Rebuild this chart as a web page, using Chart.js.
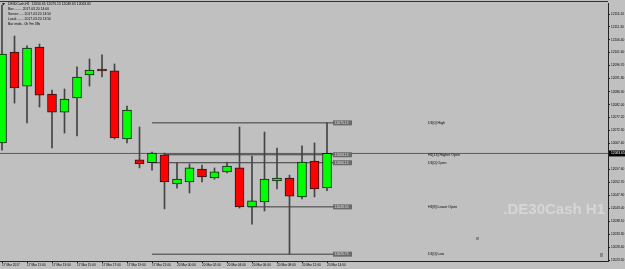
<!DOCTYPE html>
<html>
<head>
<meta charset="utf-8">
<script src="https://cdn.jsdelivr.net/npm/chart.js@4.4.1/dist/chart.umd.min.js"></script>
<style>
  html, body { margin: 0; padding: 0; background: #c0c0c0; }
  canvas { display: block; }
</style>
</head>
<body>
<canvas id="grafico" width="625" height="269"></canvas>
<script>
// H1 candles, 17 Mar 09:00 -> 20 Mar 14:00
const opens  = [12067.6, 12101.8, 12089.0, 12103.7, 12086.0, 12079.2, 12084.5, 12093.2, 12095.4, 12094.7, 12069.1, 12061.2, 12060.15, 12063.1, 12052.2, 12052.9, 12057.8, 12054.4, 12056.7, 12058.2, 12043.5, 12045.4, 12053.3, 12054.4, 12047.3, 12060.8, 12050.65];
const highs  = [12119.5, 12107.8, 12104.1, 12104.8, 12087.5, 12087.9, 12096.2, 12099.2, 12100.7, 12097.3, 12081.5, 12073.6, 12064.2, 12063.8, 12060.1, 12059.7, 12059.3, 12058.2, 12060.4, 12073.6, 12062.7, 12071.7, 12065.7, 12055.5, 12066.5, 12067.6, 12075.15];
const lows   = [12064.9, 12082.6, 12075.1, 12081.1, 12065.7, 12071.3, 12070.2, 12089.0, 12092.4, 12069.1, 12067.6, 12058.2, 12057.4, 12042.8, 12050.6, 12048.8, 12052.9, 12054.0, 12056.3, 12043.1, 12037.0, 12042.0, 12050.3, 12025.75, 12046.5, 12047.3, 12049.65];
const closes = [12101.0, 12088.3, 12103.3, 12085.6, 12079.2, 12084.1, 12092.4, 12095.0, 12094.7, 12069.5, 12080.0, 12059.7, 12063.8, 12052.9, 12054.0, 12058.2, 12054.8, 12056.7, 12058.9, 12043.5, 12045.8, 12054.0, 12054.4, 12047.6, 12060.4, 12050.3, 12063.65];

const timeTickIdx = [0, 2, 4, 6, 8, 10, 12, 14, 16, 18, 20, 22, 24, 26];
const timeLabels = ['17 Mar 2017', '17 Mar 11:00', '17 Mar 13:00', '17 Mar 15:00', '17 Mar 17:00', '17 Mar 19:00', '17 Mar 21:00',
                    '20 Mar 00:00', '20 Mar 02:00', '20 Mar 04:00', '20 Mar 06:00', '20 Mar 08:00', '20 Mar 12:00', '20 Mar 14:00'];

const priceTicks = [12116.10, 12111.30, 12106.40, 12101.60, 12096.70, 12091.80, 12086.90, 12082.00, 12077.20, 12072.30,
                    12067.40, 12057.60, 12052.70, 12047.90, 12043.00, 12038.10, 12033.30, 12028.40, 12023.50];

// livelli disegnati dall'indicatore
const levelNames  = ['D1[0] High', 'H1[13] Higher Open', 'D1[0] Open', 'H1[8] Lower Open', 'D1[0] Low'];
const levelValues = [12075.15, 12063.15, 12060.15, 12043.55, 12025.75];
const levelStart  = [12, 13, 12, 19.7, 12];

const headerLines = [
  'DE30Cash,H1  12050.65 12075.15 12049.65 12063.65',
  'Bar:........ 2017.03.20 14:00',
  'Server:..... 2017.03.20 14:50',
  'Local:....... 2017.03.20 13:50',
  'Bar ends.. 0h 9m 38s'
];

document.addEventListener("DOMContentLoaded", function(){
    const grafico = document.getElementById("grafico");
    const lastClose = closes[closes.length - 1];
    const xMin = -0.16, xMax = 48.48, lineEnd = 26.48;

    const levelSets = levelValues.map((v, i) => ({
        type: 'line',
        data: [{ x: levelStart[i], y: v }, { x: lineEnd, y: v }],
        borderColor: '#3c3c3c',
        borderWidth: 1,
        pointRadius: 0,
        order: 2
    }));

    const overlay = {
        id: 'overlay',
        beforeDraw(chart) {
            const c = chart.ctx;
            c.save();
            c.fillStyle = '#c0c0c0';
            c.fillRect(0, 0, chart.width, chart.height);
            // filigrana
            c.font = 'bold 15px "Liberation Sans", Arial, sans-serif';
            c.fillStyle = '#d6d6d6';
            c.textAlign = 'right';
            c.textBaseline = 'alphabetic';
            c.fillText('.DE30Cash H1', 605, 214);
            c.restore();
        },
        afterDraw(chart) {
            const c = chart.ctx;
            const y = chart.scales.y;
            const area = chart.chartArea;
            c.save();
            // bordo superiore
            c.strokeStyle = '#333';
            c.lineWidth = 1;
            c.beginPath();
            c.moveTo(0, 1.5);
            c.lineTo(area.right, 1.5);
            c.stroke();

            // intestazione
            c.fillStyle = '#222';
            c.beginPath();
            c.moveTo(2, 3); c.lineTo(5, 3); c.lineTo(3.5, 5.5); c.closePath();
            c.fill();
            c.font = '3.4px "Liberation Sans", Arial, sans-serif';
            c.fillStyle = '#000';
            c.textAlign = 'left';
            c.textBaseline = 'middle';
            headerLines.forEach((t, i) => c.fillText(t, 8, 4.5 + i * 5));

            // etichette livelli
            levelValues.forEach((v, i) => {
                const py = y.getPixelForValue(v);
                c.fillStyle = '#6a6a6a';
                c.fillRect(333, py - 2.5, 19, 5);
                c.fillStyle = '#e4e4e4';
                c.font = '3.4px "Liberation Sans", Arial, sans-serif';
                c.fillText(v.toFixed(2), 334.5, py);
                c.fillStyle = '#000';
                c.font = '3.6px "Liberation Sans", Arial, sans-serif';
                c.fillText(levelNames[i], 428, py);
            });

            // prezzo corrente sull'asse
            const pc = y.getPixelForValue(lastClose);
            c.fillStyle = '#000';
            c.fillRect(area.right + 1, pc - 3, 16, 6);
            c.fillStyle = '#fff';
            c.font = '3.3px "Liberation Sans", Arial, sans-serif';
            c.fillText(lastClose.toFixed(2), area.right + 3, pc);

            // piccoli oggetti grafici
            c.fillStyle = '#8a8a8a';
            c.fillRect(476, 237, 3, 3);
            c.fillRect(600, 253, 3, 4);
            c.restore();
        }
    };

    new Chart(grafico, {
        data: {
            datasets: [
                {
                    type: 'bar',
                    label: 'bodies',
                    data: opens.map((o, i) => ({ x: i, y: [o, closes[i]] })),
                    backgroundColor: opens.map((o, i) => closes[i] >= o ? '#00ff00' : '#ff0000'),
                    borderColor: '#1a1a1a',
                    borderWidth: 1,
                    borderSkipped: false,
                    barThickness: 9,
                    grouped: false,
                    order: 0
                },
                {
                    type: 'bar',
                    label: 'wicks',
                    data: lows.map((l, i) => ({ x: i, y: [l, highs[i]] })),
                    backgroundColor: '#444444',
                    borderWidth: 0,
                    barThickness: 1,
                    grouped: false,
                    order: 1
                },
                {
                    type: 'line',
                    data: [{ x: xMin, y: lastClose }, { x: xMax, y: lastClose }],
                    borderColor: '#5a5a5a',
                    borderWidth: 1,
                    pointRadius: 0,
                    order: 3
                },
                ...levelSets
            ]
        },
        options: {
            responsive: false,
            animation: false,
            layout: { padding: { top: 3, left: 0, right: 0, bottom: 0 } },
            plugins: {
                legend: { display: false },
                tooltip: { enabled: false }
            },
            scales: {
                x: {
                    type: 'linear',
                    min: xMin,
                    max: xMax,
                    offset: false,
                    position: 'bottom',
                    afterFit: s => { s.height = 8; s.paddingLeft = 0; s.paddingRight = 0; },
                    afterBuildTicks: s => { s.ticks = timeTickIdx.map(v => ({ value: v })); },
                    ticks: {
                        autoSkip: false,
                        maxRotation: 0,
                        align: 'start',
                        padding: 0,
                        color: '#000',
                        font: { size: 3.2, family: '"Liberation Sans", Arial, sans-serif' },
                        callback: (v, i) => timeLabels[i]
                    },
                    grid: { offset: false, drawOnChartArea: false, tickLength: 2, color: '#222' },
                    border: { color: '#222' }
                },
                y: {
                    type: 'linear',
                    position: 'right',
                    min: 12023.19,
                    max: 12120.24,
                    afterFit: s => { s.width = 17; s.paddingTop = 0; s.paddingBottom = 0; },
                    afterBuildTicks: s => { s.ticks = priceTicks.map(v => ({ value: v })); },
                    ticks: {
                        padding: 1,
                        color: '#000',
                        font: { size: 3.2, family: '"Liberation Sans", Arial, sans-serif' },
                        callback: (v, i) => priceTicks[i].toFixed(2)
                    },
                    grid: { drawOnChartArea: false, tickLength: 2, color: '#222' },
                    border: { color: '#222' }
                }
            }
        },
        plugins: [overlay]
    });
});
</script>
</body>
</html>
